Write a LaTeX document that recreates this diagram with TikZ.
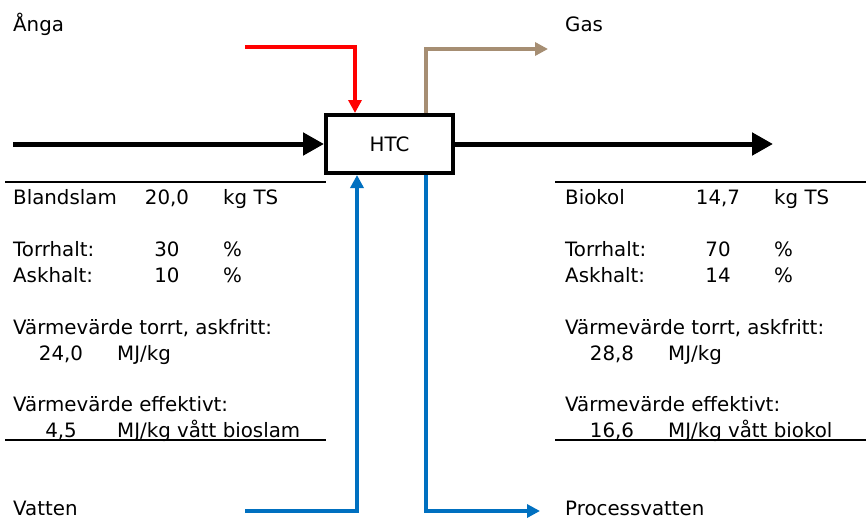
\documentclass[tikz,border=0pt]{standalone}
\usepackage{fontspec}
\setmainfont{DejaVu Sans}
\usetikzlibrary{arrows.meta}
\definecolor{gasbrown}{RGB}{166,142,115}
\definecolor{waterblue}{RGB}{0,112,192}

\begin{document}
\begin{tikzpicture}[x=1pt, y=-1pt,
        every node/.style={font=\fontsize{19.8}{24}\selectfont, inner sep=0pt},
        lbl/.style={anchor=base west},
        val/.style={anchor=base},
        box/.style={draw, line width=4pt, minimum width=127pt, minimum height=58pt},
        mainarr/.style={line width=5pt, -{Triangle[length=21pt,width=22pt]}},
        rule/.style={line width=2pt},
        flow/.style={line width=3.5pt, -{Triangle[length=13pt,width=13pt]}},
    ]
        \useasboundingbox (0,0) rectangle (866,519);

        \node[box] (htc) at (389.5,144) {HTC};

        % labels of the streams
        \node[lbl] (anga)   at (13,32)   {Ånga};
        \node[lbl] (gas)    at (565,32)  {Gas};
        \node[lbl] (vatten) at (13,515)  {Vatten};
        \node[lbl] (pvatten) at (565,515) {Processvatten};

        \coordinate (slamin)   at (13,144);
        \coordinate (kolout)   at (773,144);
        \coordinate (steam)    at (245,47);
        \coordinate (gasout)   at (548,49);
        \coordinate (waterin)  at (245,511);
        \coordinate (waterout) at (540,511);

        \draw[mainarr] (slamin) -- (htc.west);
        \draw[mainarr] (htc.east) -- (kolout);
        \draw[flow, red] (steam) -| ([xshift=-34.5pt]htc.north);
        \draw[flow, gasbrown] ([xshift=36.5pt]htc.north) |- (gasout);
        \draw[flow, waterblue] (waterin) -| ([xshift=-32.5pt]htc.south);
        \draw[flow, waterblue] ([xshift=36.5pt]htc.south) |- (waterout);

        % in: blandslam
        \draw[rule] (5,182) -- (326,182);
        \node[lbl] (bl)   at (13,204)  {Blandslam};
        \node[val] (blv)  at (167,204) {20,0};
        \node[lbl] (blu)  at (223,204) {kg TS};
        \node[lbl] (bt)   at (13,256)  {Torrhalt:};
        \node[val] (btv)  at (167,256) {30};
        \node[lbl] (btu)  at (223,256) {\%};
        \node[lbl] (ba)   at (13,282)  {Askhalt:};
        \node[val] (bav)  at (167,282) {10};
        \node[lbl] (bau)  at (223,282) {\%};
        \node[lbl] (bh)   at (13,334)  {Värmevärde torrt, askfritt:};
        \node[val] (bhv)  at (61,360)  {24,0};
        \node[lbl] (bhu)  at (117,360) {MJ/kg};
        \node[lbl] (be)   at (13,411)  {Värmevärde effektivt:};
        \node[val] (bev)  at (61,437)  {4,5};
        \node[lbl] (beu)  at (117,437) {MJ/kg vått bioslam};
        \draw[rule] (5,440) -- (326,440);

        % out: biokol
        \draw[rule] (555,182) -- (866,182);
        \node[lbl] (kl)   at (565,204) {Biokol};
        \node[val] (klv)  at (718,204) {14,7};
        \node[lbl] (klu)  at (774,204) {kg TS};
        \node[lbl] (kt)   at (565,256) {Torrhalt:};
        \node[val] (ktv)  at (718,256) {70};
        \node[lbl] (ktu)  at (774,256) {\%};
        \node[lbl] (ka)   at (565,282) {Askhalt:};
        \node[val] (kav)  at (718,282) {14};
        \node[lbl] (kau)  at (774,282) {\%};
        \node[lbl] (kh)   at (565,334) {Värmevärde torrt, askfritt:};
        \node[val] (khv)  at (612,360) {28,8};
        \node[lbl] (khu)  at (668,360) {MJ/kg};
        \node[lbl] (ke)   at (565,411) {Värmevärde effektivt:};
        \node[val] (kev)  at (612,437) {16,6};
        \node[lbl] (keu)  at (668,437) {MJ/kg vått biokol};
        \draw[rule] (555,440) -- (866,440);
    \end{tikzpicture}
\end{document}
